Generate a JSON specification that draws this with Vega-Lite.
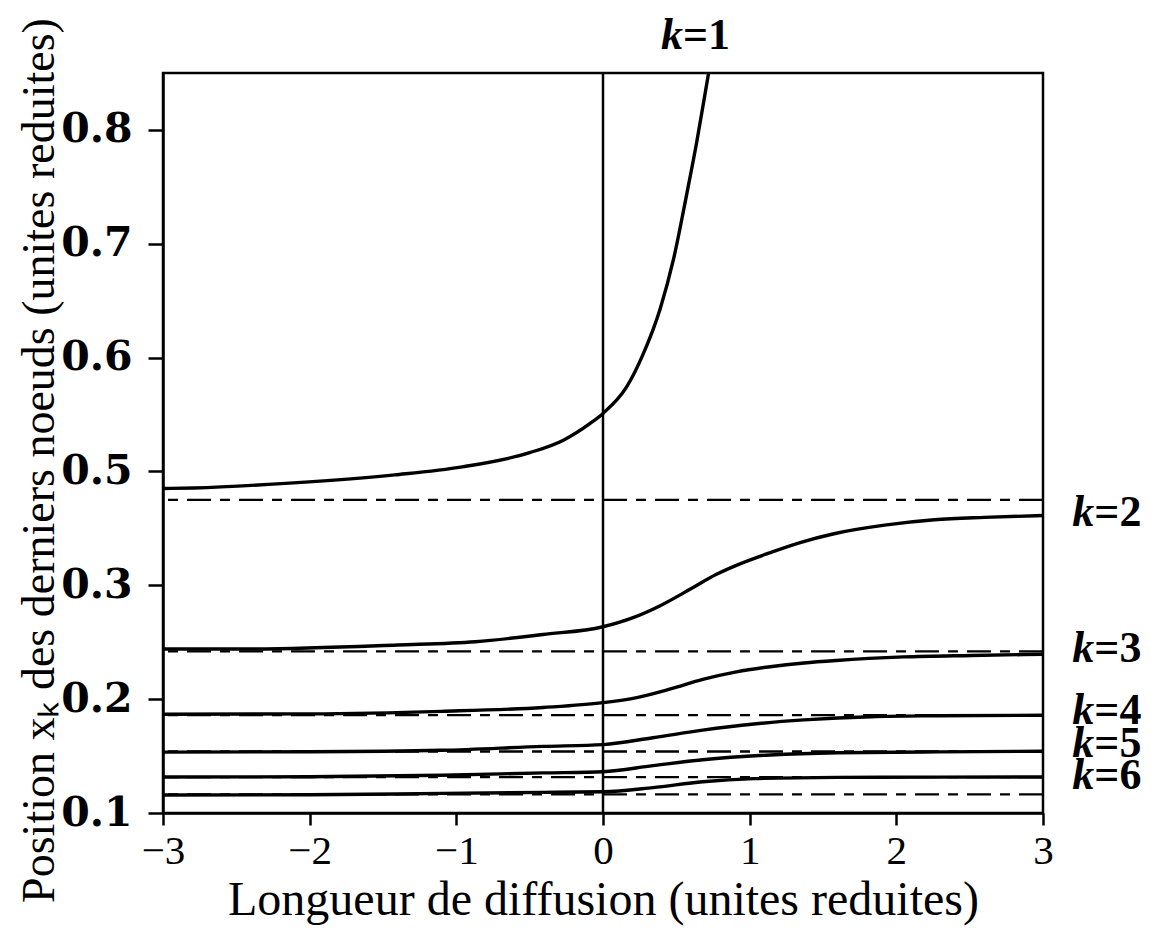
{
  "$schema": "https://vega.github.io/schema/vega-lite/v6.json",
  "width": 880,
  "height": 740,
  "autosize": {"type": "none"},
  "padding": {"left": 163, "top": 73, "right": 112, "bottom": 128},
  "background": "white",
  "config": {
    "view": {"stroke": "black", "strokeWidth": 2.5},
    "font": "Liberation Serif"
  },
  "datasets": {
    "curves": [
      {"k": 1, "x": -3.0, "y": 0.470}, {"k": 1, "x": -2.79, "y": 0.471}, {"k": 1, "x": -2.11, "y": 0.480}, {"k": 1, "x": -1.42, "y": 0.494}, {"k": 1, "x": -0.96, "y": 0.504}, {"k": 1, "x": -0.5, "y": 0.5165}, {"k": 1, "x": -0.27, "y": 0.5275}, {"k": 1, "x": -0.09, "y": 0.542}, {"k": 1, "x": 0.0, "y": 0.551}, {"k": 1, "x": 0.16, "y": 0.574}, {"k": 1, "x": 0.27, "y": 0.602}, {"k": 1, "x": 0.39, "y": 0.643}, {"k": 1, "x": 0.48, "y": 0.686}, {"k": 1, "x": 0.57, "y": 0.743}, {"k": 1, "x": 0.64, "y": 0.790}, {"k": 1, "x": 0.72, "y": 0.85}, {"k": 1, "x": 0.76, "y": 0.88},
      {"k": 2, "x": -3.0, "y": 0.244}, {"k": 2, "x": -2.47, "y": 0.244}, {"k": 2, "x": -1.4, "y": 0.2476}, {"k": 2, "x": -0.87, "y": 0.2504}, {"k": 2, "x": -0.41, "y": 0.2568}, {"k": 2, "x": 0.0, "y": 0.2636}, {"k": 2, "x": 0.205, "y": 0.2716}, {"k": 2, "x": 0.39, "y": 0.2821}, {"k": 2, "x": 0.596, "y": 0.2967}, {"k": 2, "x": 0.774, "y": 0.3193}, {"k": 2, "x": 0.938, "y": 0.3381}, {"k": 2, "x": 1.116, "y": 0.3552}, {"k": 2, "x": 1.35, "y": 0.3755}, {"k": 2, "x": 1.575, "y": 0.3906}, {"k": 2, "x": 1.92, "y": 0.4056}, {"k": 2, "x": 2.26, "y": 0.4151}, {"k": 2, "x": 2.6, "y": 0.4193}, {"k": 2, "x": 3.0, "y": 0.4225},
      {"k": 3, "x": -3.0, "y": 0.1868}, {"k": 3, "x": -2.0, "y": 0.1871}, {"k": 3, "x": -1.1, "y": 0.1893}, {"k": 3, "x": -0.41, "y": 0.1927}, {"k": 3, "x": 0.0, "y": 0.1969}, {"k": 3, "x": 0.23, "y": 0.2014}, {"k": 3, "x": 0.46, "y": 0.209}, {"k": 3, "x": 0.68, "y": 0.2174}, {"k": 3, "x": 0.91, "y": 0.224}, {"k": 3, "x": 1.14, "y": 0.2285}, {"k": 3, "x": 1.37, "y": 0.2318}, {"k": 3, "x": 1.59, "y": 0.234}, {"k": 3, "x": 2.05, "y": 0.2371}, {"k": 3, "x": 2.51, "y": 0.2384}, {"k": 3, "x": 3.0, "y": 0.2394},
      {"k": 4, "x": -3.0, "y": 0.1535}, {"k": 4, "x": -2.0, "y": 0.1538}, {"k": 4, "x": -1.1, "y": 0.1551}, {"k": 4, "x": -0.41, "y": 0.1585}, {"k": 4, "x": 0.0, "y": 0.1601}, {"k": 4, "x": 0.34, "y": 0.1661}, {"k": 4, "x": 0.68, "y": 0.1728}, {"k": 4, "x": 1.03, "y": 0.1782}, {"k": 4, "x": 1.37, "y": 0.1818}, {"k": 4, "x": 1.83, "y": 0.1846}, {"k": 4, "x": 2.28, "y": 0.1854}, {"k": 4, "x": 3.0, "y": 0.1859},
      {"k": 5, "x": -3.0, "y": 0.1316}, {"k": 5, "x": -2.0, "y": 0.1318}, {"k": 5, "x": -1.1, "y": 0.1332}, {"k": 5, "x": -0.41, "y": 0.1352}, {"k": 5, "x": 0.0, "y": 0.1362}, {"k": 5, "x": 0.34, "y": 0.1416}, {"k": 5, "x": 0.68, "y": 0.1468}, {"k": 5, "x": 1.14, "y": 0.151}, {"k": 5, "x": 1.6, "y": 0.1529}, {"k": 5, "x": 2.28, "y": 0.1537}, {"k": 5, "x": 3.0, "y": 0.1543},
      {"k": 6, "x": -3.0, "y": 0.1158}, {"k": 6, "x": -2.0, "y": 0.116}, {"k": 6, "x": -1.1, "y": 0.1172}, {"k": 6, "x": -0.41, "y": 0.1181}, {"k": 6, "x": 0.0, "y": 0.1186}, {"k": 6, "x": 0.34, "y": 0.1223}, {"k": 6, "x": 0.68, "y": 0.1275}, {"k": 6, "x": 1.03, "y": 0.1302}, {"k": 6, "x": 1.6, "y": 0.1313}, {"k": 6, "x": 2.28, "y": 0.1315}, {"k": 6, "x": 3.0, "y": 0.1316}
    ],
    "asymptotes": [
      {"id": "D1", "y": 0.450}, {"id": "D2", "y": 0.242}, {"id": "D3", "y": 0.186}, {"id": "D4", "y": 0.154}, {"id": "D5", "y": 0.1315}, {"id": "D6", "y": 0.1163}
    ],
    "zero": [{"x": 0}],
    "labels": [
      {"name": "k=1", "k": "k", "rest": "=1", "x": 0.545, "y": 0.8825},
      {"name": "k=2", "k": "k", "rest": "=2", "x": 3.35, "y": 0.427},
      {"name": "k=3", "k": "k", "rest": "=3", "x": 3.35, "y": 0.244},
      {"name": "k=4", "k": "k", "rest": "=4", "x": 3.35, "y": 0.1896},
      {"name": "k=5", "k": "k", "rest": "=5", "x": 3.35, "y": 0.1606},
      {"name": "k=6", "k": "k", "rest": "=6", "x": 3.35, "y": 0.1325}
    ]
  },
  "layer": [
    {
      "data": {"name": "asymptotes"},
      "mark": {"type": "rule", "color": "black", "strokeWidth": 2.3, "strokeDash": [24, 9, 10, 9]},
      "encoding": {
        "y": {"field": "y", "type": "quantitative", "title": "Position xₖ des derniers noeuds (unites reduites)",
          "scale": {"domain": [0.1, 0.3, 0.5, 0.85], "range": [740, 512.3, 398.45, 0], "nice": false, "zero": false},
          "axis": {"values": [0.1, 0.2, 0.3, 0.5, 0.6, 0.7, 0.8], "format": ".1f", "grid": false, "labelOverlap": false,
            "labelFont": "DejaVu Serif", "labelFontWeight": "bold", "labelFontSize": 41, "labelColor": "black", "labelPadding": 16,
            "tickSize": 15, "tickWidth": 2.5, "tickColor": "black", "domainColor": "black", "domainWidth": 2.5,
            "titleFont": "Liberation Serif", "titleFontSize": 46, "titleFontWeight": "normal", "titleColor": "black",
            "titleX": -124, "titleY": 387, "titleAngle": -90, "titleAlign": "center", "titleBaseline": "middle"}}
      }
    },
    {
      "data": {"name": "zero"},
      "mark": {"type": "rule", "color": "black", "strokeWidth": 2.5},
      "encoding": {
        "x": {"field": "x", "type": "quantitative", "title": "Longueur de diffusion (unites reduites)",
          "scale": {"domain": [-3, 3], "nice": false, "zero": false},
          "axis": {"values": [-3, -2, -1, 0, 1, 2, 3], "format": "d", "grid": false, "labelFlush": false, "labelOverlap": false,
            "labelFont": "Liberation Serif", "labelFontSize": 41, "labelColor": "black", "labelPadding": 6,
            "tickSize": 12, "tickWidth": 2.5, "tickColor": "black", "domainColor": "black", "domainWidth": 2.5,
            "titleFont": "Liberation Serif", "titleFontSize": 48, "titleFontWeight": "normal", "titleColor": "black",
            "titleX": 440, "titleY": 87, "titleAlign": "center", "titleBaseline": "middle"}}
      }
    },
    {
      "data": {"name": "curves"},
      "mark": {"type": "line", "color": "black", "strokeWidth": 3.4, "interpolate": "monotone", "clip": true},
      "encoding": {
        "x": {"field": "x", "type": "quantitative", "title": "Longueur de diffusion (unites reduites)", "scale": {"domain": [-3, 3], "nice": false, "zero": false}},
        "y": {"field": "y", "type": "quantitative", "title": "Position xₖ des derniers noeuds (unites reduites)", "scale": {"domain": [0.1, 0.3, 0.5, 0.85], "range": [740, 512.3, 398.45, 0], "nice": false, "zero": false}},
        "detail": {"field": "k", "type": "nominal"}
      }
    },
    {
      "data": {"name": "labels"},
      "mark": {"type": "text", "font": "Liberation Serif", "fontSize": 44, "fontWeight": "bold", "fontStyle": "italic", "align": "right", "baseline": "middle", "color": "black"},
      "encoding": {
        "x": {"field": "x", "type": "quantitative", "title": "Longueur de diffusion (unites reduites)", "scale": {"domain": [-3, 3], "nice": false, "zero": false}},
        "y": {"field": "y", "type": "quantitative", "title": "Position xₖ des derniers noeuds (unites reduites)", "scale": {"domain": [0.1, 0.3, 0.5, 0.85], "range": [740, 512.3, 398.45, 0], "nice": false, "zero": false}},
        "text": {"field": "k", "type": "nominal"}
      }
    },
    {
      "data": {"name": "labels"},
      "mark": {"type": "text", "font": "Liberation Serif", "fontSize": 44, "fontWeight": "bold", "align": "left", "baseline": "middle", "color": "black"},
      "encoding": {
        "x": {"field": "x", "type": "quantitative", "title": "Longueur de diffusion (unites reduites)", "scale": {"domain": [-3, 3], "nice": false, "zero": false}},
        "y": {"field": "y", "type": "quantitative", "title": "Position xₖ des derniers noeuds (unites reduites)", "scale": {"domain": [0.1, 0.3, 0.5, 0.85], "range": [740, 512.3, 398.45, 0], "nice": false, "zero": false}},
        "text": {"field": "rest", "type": "nominal"}
      }
    }
  ]
}
